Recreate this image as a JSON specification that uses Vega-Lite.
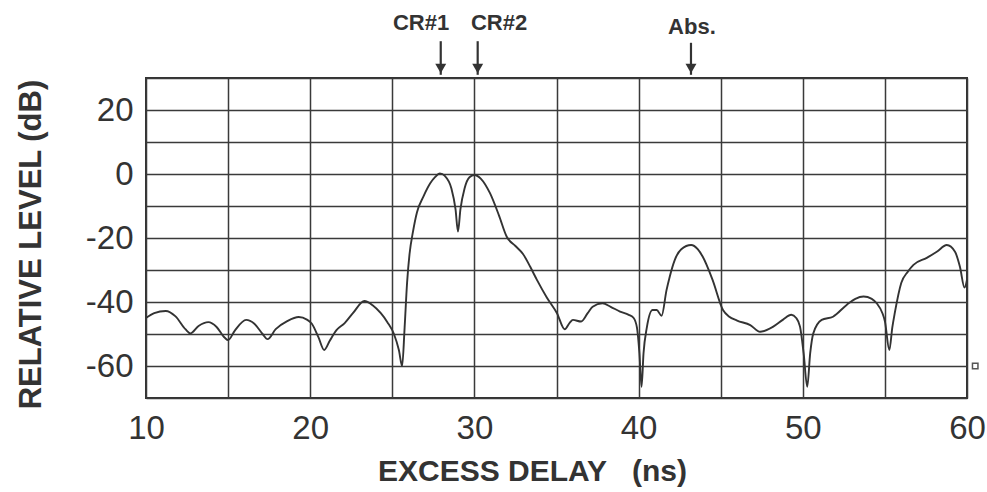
{
  "$schema": "https://vega.github.io/schema/vega-lite/v6.json",
  "width": 821,
  "height": 320,
  "autosize": {"type": "none"},
  "padding": {"left": 146, "top": 78, "right": 20, "bottom": 94},
  "background": "white",
  "config": {
    "view": {"stroke": "#333", "strokeWidth": 2},
    "axis": {
      "domain": false,
      "ticks": false,
      "grid": true,
      "gridColor": "#3a3a3a",
      "gridWidth": 1.5,
      "gridOpacity": 1,
      "labelFont": "Liberation Sans",
      "labelFontSize": 33,
      "labelColor": "#333",
      "labelFlush": false,
      "labelOverlap": false,
      "titleFont": "Liberation Sans",
      "titleFontWeight": "bold",
      "titleColor": "#333"
    }
  },
  "datasets": {
    "curve": [
      {"delay": 10.0, "level": -45.0},
      {"delay": 10.5, "level": -43.5},
      {"delay": 11.2, "level": -42.8},
      {"delay": 11.8, "level": -44.5},
      {"delay": 12.4, "level": -48.5},
      {"delay": 12.7, "level": -49.8},
      {"delay": 13.2, "level": -47.5},
      {"delay": 13.8, "level": -46.3},
      {"delay": 14.3, "level": -47.8},
      {"delay": 14.8, "level": -51.2},
      {"delay": 15.0, "level": -51.9},
      {"delay": 15.4, "level": -49.0},
      {"delay": 16.1, "level": -45.6},
      {"delay": 16.6, "level": -46.8},
      {"delay": 17.1, "level": -50.0},
      {"delay": 17.4, "level": -51.6},
      {"delay": 17.9, "level": -48.5},
      {"delay": 18.6, "level": -46.0},
      {"delay": 19.3, "level": -44.7},
      {"delay": 19.8, "level": -45.5},
      {"delay": 20.1, "level": -46.8},
      {"delay": 20.5, "level": -51.0},
      {"delay": 20.85, "level": -55.0},
      {"delay": 21.2, "level": -52.0},
      {"delay": 21.6, "level": -48.8},
      {"delay": 22.1, "level": -46.6},
      {"delay": 22.6, "level": -43.5},
      {"delay": 23.3, "level": -39.7},
      {"delay": 23.8, "level": -41.0},
      {"delay": 24.3, "level": -43.5},
      {"delay": 24.7, "level": -46.3},
      {"delay": 25.1, "level": -50.0},
      {"delay": 25.4, "level": -55.0},
      {"delay": 25.6, "level": -60.0},
      {"delay": 25.75, "level": -48.0},
      {"delay": 25.9, "level": -34.0},
      {"delay": 26.05, "level": -25.0},
      {"delay": 26.26, "level": -18.0},
      {"delay": 26.5, "level": -12.0},
      {"delay": 26.9, "level": -7.0},
      {"delay": 27.3, "level": -3.0},
      {"delay": 27.6, "level": -1.0},
      {"delay": 27.9, "level": 0.2},
      {"delay": 28.2, "level": -0.6},
      {"delay": 28.6, "level": -4.5},
      {"delay": 28.85, "level": -11.0},
      {"delay": 29.0, "level": -18.0},
      {"delay": 29.15, "level": -11.0},
      {"delay": 29.4, "level": -4.5},
      {"delay": 29.7, "level": -1.0},
      {"delay": 30.0, "level": -0.3},
      {"delay": 30.4, "level": -1.5},
      {"delay": 30.95, "level": -6.0},
      {"delay": 31.5, "level": -13.0},
      {"delay": 31.97, "level": -19.6},
      {"delay": 32.5, "level": -22.5},
      {"delay": 32.96, "level": -25.0},
      {"delay": 33.4, "level": -29.0},
      {"delay": 33.8, "level": -33.0},
      {"delay": 34.4, "level": -38.5},
      {"delay": 35.03, "level": -43.5},
      {"delay": 35.5, "level": -48.5},
      {"delay": 35.8, "level": -46.5},
      {"delay": 36.0, "level": -45.6},
      {"delay": 36.5, "level": -46.1},
      {"delay": 36.9, "level": -43.5},
      {"delay": 37.2, "level": -41.5},
      {"delay": 37.8, "level": -40.4},
      {"delay": 38.3, "level": -41.5},
      {"delay": 38.87, "level": -43.0},
      {"delay": 39.4, "level": -44.0},
      {"delay": 39.7, "level": -45.0},
      {"delay": 39.9, "level": -48.0},
      {"delay": 40.05, "level": -56.0},
      {"delay": 40.18, "level": -66.5},
      {"delay": 40.3, "level": -56.0},
      {"delay": 40.5, "level": -48.0},
      {"delay": 40.85, "level": -42.5},
      {"delay": 41.1, "level": -42.5},
      {"delay": 41.4, "level": -44.3},
      {"delay": 41.7, "level": -36.3},
      {"delay": 41.9, "level": -32.0},
      {"delay": 42.2, "level": -26.9},
      {"delay": 42.6, "level": -23.5},
      {"delay": 43.2, "level": -22.2},
      {"delay": 43.6, "level": -23.5},
      {"delay": 43.9, "level": -25.8},
      {"delay": 44.5, "level": -33.0},
      {"delay": 45.14, "level": -42.5},
      {"delay": 45.5, "level": -44.5},
      {"delay": 46.0, "level": -45.8},
      {"delay": 46.8, "level": -47.2},
      {"delay": 47.4, "level": -49.3},
      {"delay": 48.2, "level": -47.7},
      {"delay": 48.8, "level": -45.5},
      {"delay": 49.3, "level": -44.0},
      {"delay": 49.6, "level": -45.0},
      {"delay": 49.83, "level": -47.7},
      {"delay": 50.05, "level": -56.0},
      {"delay": 50.27, "level": -66.5},
      {"delay": 50.45, "level": -56.0},
      {"delay": 50.64, "level": -49.8},
      {"delay": 51.15, "level": -45.6},
      {"delay": 51.84, "level": -44.6},
      {"delay": 52.67, "level": -40.9},
      {"delay": 53.2, "level": -39.0},
      {"delay": 53.7, "level": -38.3},
      {"delay": 54.2, "level": -39.0},
      {"delay": 54.5, "level": -40.4},
      {"delay": 54.85, "level": -43.5},
      {"delay": 55.0, "level": -46.0},
      {"delay": 55.27, "level": -55.0},
      {"delay": 55.45, "level": -48.0},
      {"delay": 55.6, "level": -43.5},
      {"delay": 56.0, "level": -34.0},
      {"delay": 56.4, "level": -30.5},
      {"delay": 56.74, "level": -28.4},
      {"delay": 57.55, "level": -26.2},
      {"delay": 58.16, "level": -24.3},
      {"delay": 58.77, "level": -22.2},
      {"delay": 59.27, "level": -24.3},
      {"delay": 59.57, "level": -29.0},
      {"delay": 59.85, "level": -35.5},
      {"delay": 60.0, "level": -33.0}
    ],
    "marks": [
      {"label": "CR#1", "delay": 27.95, "labelDelay": 26.75, "labelLevel": 47.3, "arrowTop": 41.5, "arrowBottom": 31.0, "headLevel": 33.0},
      {"label": "CR#2", "delay": 30.2, "labelDelay": 31.5, "labelLevel": 47.3, "arrowTop": 41.5, "arrowBottom": 31.0, "headLevel": 33.0},
      {"label": "Abs.", "delay": 43.19, "labelDelay": 43.25, "labelLevel": 45.8, "arrowTop": 41.0, "arrowBottom": 31.0, "headLevel": 33.0}
    ],
    "refmark": [
      {"delay": 60.5, "level": -60}
    ]
  },
  "layer": [
    {
      "data": {"name": "curve"},
      "mark": {"type": "line", "color": "#333", "strokeWidth": 1.9, "interpolate": "monotone"},
      "encoding": {
        "x": {
          "field": "delay", "type": "quantitative",
          "scale": {"domain": [10, 60], "nice": false, "zero": false},
          "axis": {
            "values": [10, 15, 20, 25, 30, 35, 40, 45, 50, 55, 60],
            "tickCount": 30,
            "labelExpr": "datum.value % 10 == 0 ? ('' + datum.value) : ''",
            "labelPadding": 14,
            "labelBaseline": "top",
            "title": "EXCESS DELAY\u00a0\u00a0\u00a0(ns)",
            "titleFontSize": 30,
            "titleX": 386,
            "titleY": 73,
            "titleBaseline": "middle",
            "titleAlign": "center"
          }
        },
        "y": {
          "field": "level", "type": "quantitative",
          "scale": {"domain": [-70, 30], "nice": false, "zero": false},
          "axis": {
            "values": [-70, -60, -50, -40, -30, -20, -10, 0, 10, 20, 30],
            "tickCount": 30,
            "labelExpr": "datum.value % 20 == 0 ? ('' + datum.value) : ''",
            "labelPadding": 13,
            "title": "RELATIVE LEVEL (dB)",
            "titleFontSize": 31,
            "titleAngle": -90,
            "titleX": -115,
            "titleY": 166,
            "titleBaseline": "middle",
            "titleAlign": "center"
          }
        }
      }
    },
    {
      "data": {"name": "marks"},
      "mark": {"type": "text", "font": "Liberation Sans", "fontWeight": "bold", "fontSize": 22, "color": "#333", "baseline": "middle", "align": "center"},
      "encoding": {
        "x": {"field": "labelDelay", "type": "quantitative"},
        "y": {"field": "labelLevel", "type": "quantitative"},
        "text": {"field": "label"}
      }
    },
    {
      "data": {"name": "marks"},
      "mark": {"type": "rule", "color": "#333", "strokeWidth": 2.2},
      "encoding": {
        "x": {"field": "delay", "type": "quantitative"},
        "y": {"field": "arrowTop", "type": "quantitative"},
        "y2": {"field": "arrowBottom"}
      }
    },
    {
      "data": {"name": "marks"},
      "mark": {"type": "point", "shape": "triangle-down", "filled": true, "color": "#333", "size": 120, "opacity": 1},
      "encoding": {
        "x": {"field": "delay", "type": "quantitative"},
        "y": {"field": "headLevel", "type": "quantitative"}
      }
    },
    {
      "data": {"name": "refmark"},
      "mark": {"type": "point", "shape": "square", "filled": false, "color": "#555", "size": 30, "strokeWidth": 1.5, "opacity": 1},
      "encoding": {
        "x": {"field": "delay", "type": "quantitative"},
        "y": {"field": "level", "type": "quantitative"}
      }
    }
  ]
}
